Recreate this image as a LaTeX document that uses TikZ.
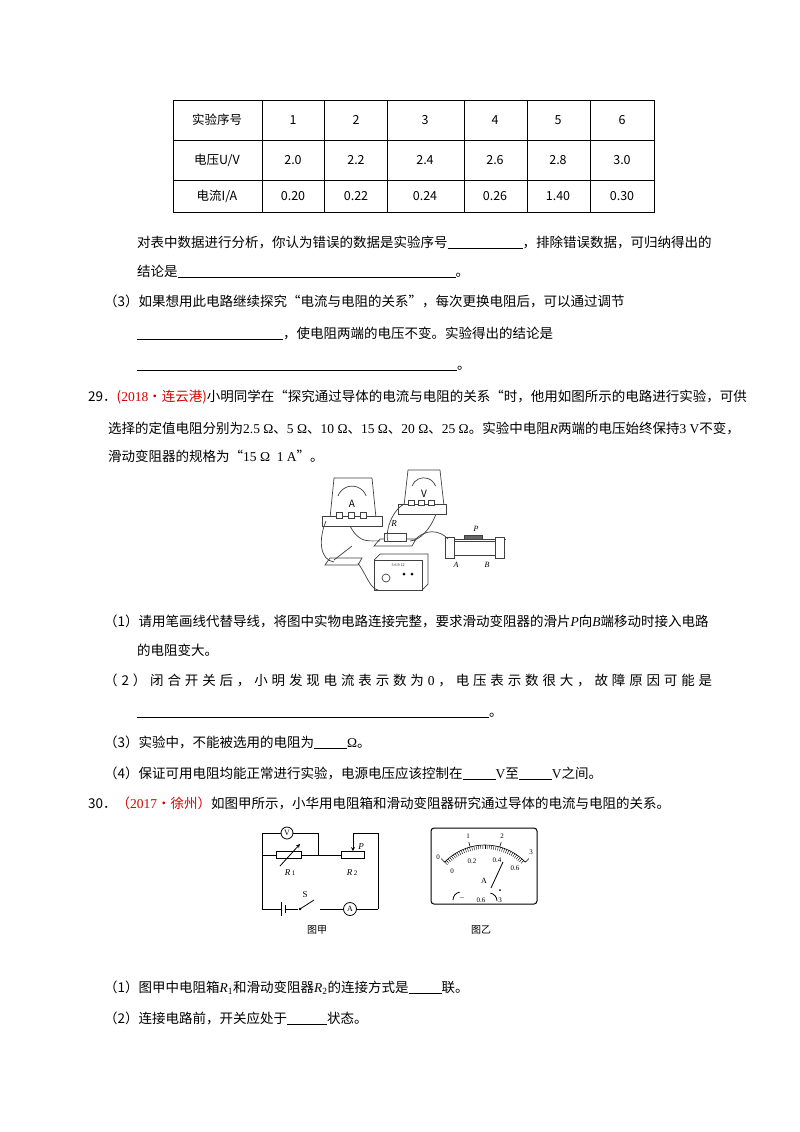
\documentclass[tikz,border=0pt]{standalone}
\usepackage{fontspec}
\setmainfont{Liberation Serif}
\newfontfamily\cjk{Noto Sans CJK SC}
\newcommand{\blk}[1]{\rule[-2pt]{#1pt}{0.6pt}}
\newcommand{\tm}[1]{{\rmfamily #1}}
\begin{document}
\begin{tikzpicture}[x=1pt,y=-1pt,
  txt/.style={anchor=base west,inner sep=0pt,font=\cjk\fontsize{13.5}{16}\selectfont},
  cell/.style={anchor=center,inner sep=0pt,font=\cjk\fontsize{12.5}{14}\selectfont},
  wire/.style={line width=0.8pt},
  ph/.style={line width=0.7pt,draw=black!75},
  lbl/.style={inner sep=0pt,font=\cjk\fontsize{10}{12}\selectfont}]
\useasboundingbox (0,0) rectangle (800,1132);
\fill[white] (0,0) rectangle (800,1132);
% table
\draw[line width=1pt] (173,100) rectangle (654,212);
\foreach \y in {140,180} \draw[line width=0.8pt] (173,\y)--(654,\y);
\foreach \x in {262,324,387,464,527,590} \draw[line width=0.8pt] (\x,100)--(\x,212);
\node[cell] (h0) at (217,120) {实验序号};
\node[cell] (r1) at (217,160) {电压U/V};
\node[cell] (r2) at (217,196) {电流I/A};
\foreach \x/\a/\b/\c [count=\i] in {293/1/2.0/0.20,356/2/2.2/0.22,425/3/2.4/0.24,495/4/2.6/0.26,558/5/2.8/1.40,622/6/3.0/0.30}{
  \node[cell] (c\i a) at (\x,120) {\a};
  \node[cell] (c\i b) at (\x,160) {\b};
  \node[cell] (c\i c) at (\x,196) {\c};}
% text lines
\node[txt] (l1) at (137,247) {对表中数据进行分析，你认为错误的数据是实验序号\blk{75}，排除错误数据，可归纳得出的};
\node[txt] (l2) at (137,276) {结论是\blk{278}。};
\node[txt] (l3) at (104,306) {（3）如果想用此电路继续探究“电流与电阻的关系”，每次更换电阻后，可以通过调节};
\node[txt] (l4) at (137,338) {\blk{146}，使电阻两端的电压不变。实验得出的结论是};
\node[txt] (l5) at (137,369) {\blk{320}。};
\node[txt] (l6) at (88,401) {29．\textcolor{red!85!black}{(\tm{2018}·连云港)}小明同学在“探究通过导体的电流与电阻的关系“时，他用如图所示的电路进行实验，可供};
\node[txt] (l7) at (108,433) {选择的定值电阻分别为\tm{2.5 Ω}、\tm{5 Ω}、\tm{10 Ω}、\tm{15 Ω}、\tm{20 Ω}、\tm{25 Ω}。实验中电阻\tm{\textit{R}}两端的电压始终保持\tm{3 V}不变，};
\node[txt] (l8) at (108,461) {滑动变阻器的规格为“\tm{15 Ω\ \ 1 A}”。};
\node[txt] (l9) at (104,626) {（1）请用笔画线代替导线，将图中实物电路连接完整，要求滑动变阻器的滑片\tm{\textit{P}}向\tm{\textit{B}}端移动时接入电路};
\node[txt] (l10) at (137,655) {的电阻变大。};
\node[txt,text width=608pt] (l11) at (104,685) {（\hfill 2\hfill ）\hfill 闭\hfill 合\hfill 开\hfill 关\hfill 后\hfill ，\hfill 小\hfill 明\hfill 发\hfill 现\hfill 电\hfill 流\hfill 表\hfill 示\hfill 数\hfill 为\hfill \tm{0}\hfill ，\hfill 电\hfill 压\hfill 表\hfill 示\hfill 数\hfill 很\hfill 大\hfill ，\hfill 故\hfill 障\hfill 原\hfill 因\hfill 可\hfill 能\hfill 是};
\node[txt] (l12) at (137,716) {\blk{352}。};
\node[txt] (l13) at (104,747) {（3）实验中，不能被选用的电阻为\blk{33}\tm{Ω}。};
\node[txt] (l14) at (104,778) {（4）保证可用电阻均能正常进行实验，电源电压应该控制在\blk{33}\tm{V}至\blk{33}\tm{V}之间。};
\node[txt] (l15) at (88,808) {30．\textcolor{red!85!black}{（\tm{2017}·徐州）}如图甲所示，小华用电阻箱和滑动变阻器研究通过导体的电流与电阻的关系。};
\node[txt] (l16) at (104,992) {（1）图甲中电阻箱\tm{\textit{R}\textsubscript{1}}和滑动变阻器\tm{\textit{R}\textsubscript{2}}的连接方式是\blk{33}联。};
\node[txt] (l17) at (104,1023) {（2）连接电路前，开关应处于\blk{40}状态。};
% ---- photo-like circuit (simplified)
\begin{scope}[ph]
 \draw[fill=white] (330,518)--(334,478)--(372,478)--(376,518)--cycle;
 \draw (338,496) arc[start angle=-160,end angle=-20,radius=15];
 \node[lbl] (am) at (352,504) {A};
 \draw[fill=white] (322,516) rectangle (382,526);
 \foreach \x in {336,348,360} \draw[fill=white] (\x,512) rectangle (\x+6,518);
 \draw[fill=white] (404,506)--(408,470)--(440,470)--(444,506)--cycle;
 \draw (412,486) arc[start angle=-160,end angle=-20,radius=12.5];
 \node[lbl] (vm) at (424,494) {V};
 \draw[fill=white] (398,504) rectangle (446,514);
 \foreach \x in {408,418,428} \draw[fill=white] (\x,500) rectangle (\x+6,505);
 \draw[fill=white] (374,546)--(412,546)--(416,539)--(380,539)--cycle;
 \draw[fill=white] (384,533) rectangle (406,541);
 \node[lbl,font=\rmfamily\itshape\fontsize{9}{10}\selectfont] (rr) at (394,524) {R};
 \draw[fill=white] (450,541) rectangle (500,555);
 \draw (446,539)--(506,539);
 \draw[fill=black!60] (464,535) rectangle (482,539);
 \node[lbl,font=\rmfamily\itshape\fontsize{8}{9}\selectfont] (pp) at (476,529) {P};
 \foreach \x in {450,500} \draw[fill=white] (\x-5,537) rectangle (\x+4,558);
 \node[lbl,font=\rmfamily\itshape\fontsize{8}{9}\selectfont] (aa) at (456,565) {A};
 \node[lbl,font=\rmfamily\itshape\fontsize{8}{9}\selectfont] (bb) at (487,565) {B};
 \draw[fill=white] (325,565)--(358,565)--(362,558)--(330,558)--cycle;
 \draw (334,560)--(352,546);
 \draw[fill=white] (374,560) rectangle (422,590);
 \draw (374,560)--(380,554)--(428,554)--(428,584)--(422,590);
 \draw (386,578) circle (4);
 \foreach \x in {404,412} \fill (\x,574) circle (1.5);
 \node[lbl,font=\rmfamily\fontsize{4}{5}\selectfont] (ps) at (398,565) {3 6 9 12};
 \draw (326,521) .. controls (318,540) and (320,560) .. (334,562);
 \draw (350,526) .. controls (360,545) and (370,540) .. (380,541);
 \draw (404,504) .. controls (390,512) and (385,535) .. (388,541);
 \draw (436,514) .. controls (430,530) and (420,540) .. (410,541);
 \draw (414,541) .. controls (425,528) and (440,530) .. (448,539);
 \draw (358,563) .. controls (368,578) and (370,588) .. (378,590);
\end{scope}
% ---- 图甲
\begin{scope}[wire]
 \coordinate (tl) at (262,833); \coordinate (bl) at (262,909);
 \coordinate (tr) at (378,833); \coordinate (br) at (378,909);
 \coordinate (j) at (318,855);
 \node[draw,circle,inner sep=0pt,minimum size=12pt,font=\rmfamily\fontsize{8}{9}\selectfont] (V) at (287,833) {V};
 \node[draw,circle,inner sep=0pt,minimum size=13pt,font=\rmfamily\fontsize{8}{9}\selectfont] (A) at (350,909) {A};
 \node[draw,rectangle,minimum width=25pt,minimum height=7pt,inner sep=0pt] (R1) at (289,855) {};
 \node[draw,rectangle,minimum width=23pt,minimum height=7pt,inner sep=0pt] (R2) at (353,855) {};
 \draw (tl)--(V.west); \draw (V.east)-|(j);
 \draw (tl)--(bl); \draw (262,855)--(R1.west); \draw (R1.east)--(R2.west);
 \draw[-stealth] (280,866)--(300,844);
 \draw (tr)--(br); \draw[-stealth] (tr)-|(R2.north);
 \draw (bl)--(281,909); \draw (281,902)--(281,916); \draw (285,905)--(285,913);
 \draw (285,909)--(298,909); \fill (300,909) circle (1.3);
 \draw (300,909)--(314,900); \draw (320,909)--(A.west); \draw (A.east)--(br);
 \node[lbl,font=\rmfamily\itshape\fontsize{9}{10}\selectfont] (lp) at (361,847) {P};
 \node[lbl,font=\rmfamily\fontsize{9}{10}\selectfont] (ls) at (305,895) {S};
 \node[lbl,font=\rmfamily\fontsize{9}{10}\selectfont] (lr1) at (290,873) {\textit{R}\,\scriptsize 1};
 \node[lbl,font=\rmfamily\fontsize{9}{10}\selectfont] (lr2) at (352,873) {\textit{R}\,\scriptsize 2};
\end{scope}
\node[lbl] (cj) at (317,930) {图甲};
% ---- 图乙
\draw[line width=1pt,rounded corners=3pt] (431,828) rectangle (537,904);
\draw[line width=0.6pt] (485,901) ++(-136:56) arc[start angle=-136,end angle=-44,radius=56];
\foreach \a in {-136,-133.7,...,-44} \draw[line width=0.4pt] (485,901) ++(\a:56) -- ++(\a:-4);
\foreach \a in {-136,-105.33,-74.67,-44} \draw[line width=0.6pt] (485,901) ++(\a:56) -- ++(\a:5);
\node[lbl,font=\rmfamily\fontsize{7}{8}\selectfont] (s0) at (438,857) {0};
\node[lbl,font=\rmfamily\fontsize{7}{8}\selectfont] (s1) at (468,836) {1};
\node[lbl,font=\rmfamily\fontsize{7}{8}\selectfont] (s2) at (502,836) {2};
\node[lbl,font=\rmfamily\fontsize{7}{8}\selectfont] (s3) at (531,852) {3};
\node[lbl,font=\rmfamily\fontsize{7}{8}\selectfont] (t0) at (452,871) {0};
\node[lbl,font=\rmfamily\fontsize{7}{8}\selectfont] (t1) at (472,861) {0.2};
\node[lbl,font=\rmfamily\fontsize{7}{8}\selectfont] (t2) at (497,860) {0.4};
\node[lbl,font=\rmfamily\fontsize{7}{8}\selectfont] (t3) at (515,868) {0.6};
\draw[line width=0.8pt] (491,888)--(503,862);
\node[lbl,font=\rmfamily\fontsize{8}{9}\selectfont] (la) at (484,881) {A};
\draw[line width=0.8pt] (453,900) arc[start angle=180,end angle=260,radius=8];
\draw[line width=0.8pt] (497,901) arc[start angle=0,end angle=-80,radius=8];
\node[lbl,font=\rmfamily\fontsize{7}{8}\selectfont] (lm) at (462,898) {$-$};
\node[lbl,font=\rmfamily\fontsize{7}{8}\selectfont] (l06) at (481,900) {0.6};
\node[lbl,font=\rmfamily\fontsize{7}{8}\selectfont] (l3) at (500,900) {3};
\fill (500,890) circle (1);
\node[lbl] (cy) at (481,930) {图乙};
\end{tikzpicture}
\end{document}
